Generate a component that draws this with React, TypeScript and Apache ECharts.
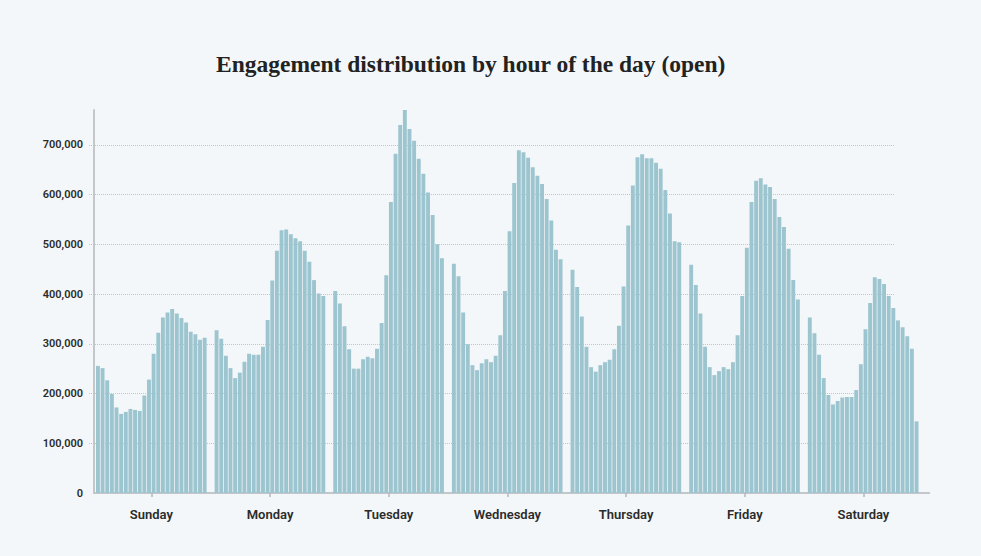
import React, { useEffect, useRef } from "react";
import * as echarts from "echarts";

const days = ["Sunday", "Monday", "Tuesday", "Wednesday", "Thursday", "Friday", "Saturday"];
const hours = Array.from({ length: 24 }, (_, i) => i);

const sunday = [255500, 251000, 226600, 199000, 172000, 159000, 163000, 169000, 167000, 165000, 196000, 228000, 280000, 322000, 353000, 363000, 370000, 361000, 352000, 343000, 324000, 319000, 308000, 312000];
const monday = [327000, 310000, 276000, 251000, 231000, 242000, 264000, 280000, 278000, 278000, 294000, 348000, 427000, 487000, 528000, 530000, 520000, 512000, 506000, 487000, 465000, 428000, 401000, 396000];
const tuesday = [406000, 381000, 335000, 289000, 250000, 250000, 269000, 274000, 271000, 290000, 342000, 438000, 585000, 682000, 740000, 770000, 732000, 708000, 672000, 642000, 604000, 559000, 500000, 472000];
const wednesday = [461000, 436000, 363000, 299000, 257000, 247000, 261000, 269000, 263000, 276000, 317000, 406000, 526000, 623000, 689000, 685000, 674000, 655000, 638000, 621000, 591000, 548000, 489000, 470000];
const thursday = [449000, 414000, 355000, 294000, 253000, 244000, 257000, 263000, 268000, 289000, 336000, 415000, 538000, 618000, 675000, 681000, 673000, 673000, 664000, 652000, 609000, 562000, 506000, 504000];
const friday = [459000, 418000, 361000, 294000, 253000, 237000, 245000, 253000, 249000, 263000, 317000, 396000, 493000, 585000, 628000, 633000, 620000, 615000, 591000, 555000, 535000, 491000, 428000, 389000];
const saturday = [353000, 321000, 278000, 231000, 197000, 178000, 185000, 192000, 193000, 193000, 207000, 259000, 329000, 382000, 434000, 430000, 420000, 396000, 372000, 347000, 333000, 315000, 290000, 144000];

const byDay = [sunday, monday, tuesday, wednesday, thursday, friday, saturday];

// layout constants (in hour-slot units on the hidden x value axis)
const DAY_SPAN = 25.57;
const FIRST_OFFSET = 0.85;
const X_MAX = 180;
const Y_MAX = 770000;

export default function App() {
  const ref = useRef<HTMLDivElement>(null);

  useEffect(() => {
    if (!ref.current) return;
    const chart = echarts.init(ref.current, undefined, { renderer: "svg" });

    const barData: [number, number][] = [];
    byDay.forEach((vals, d) => {
      hours.forEach((h) => {
        barData.push([d * DAY_SPAN + h + FIRST_OFFSET, vals[h]]);
      });
    });

    const fmt = (v: number) => v.toLocaleString("en-US");

    chart.setOption({
      animation: false,
      backgroundColor: "#f3f7f9",
      title: {
        text: "Engagement distribution by hour of the day (open)",
        left: 211,
        top: 47,
        textStyle: {
          fontFamily: "Liberation Serif",
          fontSize: 23.5,
          fontWeight: "bold",
          color: "#222",
        },
      },
      grid: [
        { left: 89, top: 110, width: 806, bottom: 63 },
        { left: 94, top: 110, width: 835.2, bottom: 63 },
        { left: 92.07, top: 110, width: 830.7, bottom: 63 },
      ],
      xAxis: [
        { gridIndex: 0, type: "value", min: 0, max: 1, show: false },
        {
          gridIndex: 1,
          type: "value",
          min: 0,
          max: X_MAX,
          axisLine: { show: true, lineStyle: { color: "#c3c7ca", width: 2 } },
          axisTick: { show: false },
          axisLabel: { show: false },
          splitLine: { show: false },
        },
        {
          gridIndex: 2,
          type: "category",
          data: days,
          boundaryGap: true,
          axisLine: { show: false },
          axisTick: { show: true, alignWithLabel: true, length: 4, lineStyle: { color: "#b5b9bc", width: 1.5 } },
          axisLabel: {
            margin: 15,
            fontFamily: "Roboto",
            fontSize: 13,
            fontWeight: 600,
            color: "#2b2b2b",
          },
          splitLine: { show: false },
        },
      ],
      yAxis: [
        {
          gridIndex: 0,
          type: "value",
          min: 0,
          max: Y_MAX,
          interval: 100000,
          axisLine: { show: false },
          axisTick: { show: false },
          axisLabel: {
            showMaxLabel: false,
            margin: 6,
            fontFamily: "Roboto",
            fontSize: 11,
            fontWeight: 600,
            color: "#2b2b2b",
            formatter: fmt,
          },
          splitLine: {
            show: true,
            showMaxLine: false,
            showMinLine: false,
            lineStyle: { type: "dotted", color: "#c2c6ca", width: 1 },
          },
        },
        {
          gridIndex: 1,
          type: "value",
          min: 0,
          max: Y_MAX,
          axisLine: { show: true, lineStyle: { color: "#c3c7ca", width: 2 } },
          axisTick: { show: false },
          axisLabel: { show: false },
          splitLine: { show: false },
        },
        { gridIndex: 2, type: "value", min: 0, max: 1, show: false },
      ],
      series: [
        {
          type: "bar",
          xAxisIndex: 1,
          yAxisIndex: 1,
          data: barData,
          barWidth: 3.9,
          itemStyle: { color: "#9cc5cf" },
          silent: true,
        },
      ],
    });

    return () => chart.dispose();
  }, []);

  return (
    <div
      ref={ref}
      style={{ position: "fixed", left: 0, top: 0, width: 981, height: 556 }}
    />
  );
}
